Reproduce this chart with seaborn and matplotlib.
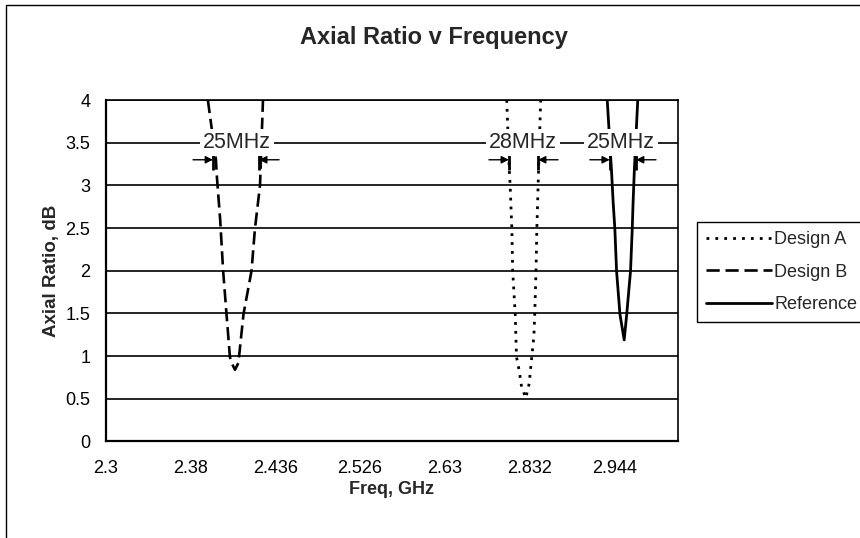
import matplotlib
matplotlib.use("Agg")
import matplotlib.pyplot as plt
import pandas as pd
import seaborn as sns
from matplotlib.patches import Rectangle

# x is the Excel category axis position (one unit = one tick step)
FREQ_LABELS = ["2.3", "2.38", "2.436", "2.526", "2.63", "2.832", "2.944"]

DESIGN_A_X = [9.46, 9.52, 9.54, 9.58, 9.60, 9.66, 9.69, 9.75, 9.81, 9.91,
              9.99, 10.05, 10.10, 10.12, 10.15, 10.17, 10.20, 10.26]
DESIGN_A_Y = [4.0, 3.18, 3.00, 2.49, 2.00, 1.49, 0.99, 0.84, 0.64, 0.51,
              0.68, 0.99, 1.23, 1.49, 2.00, 2.49, 3.00, 4.0]

DESIGN_B_X = [2.41, 2.60, 2.62, 2.70, 2.77, 2.85, 2.93, 2.97, 3.05,
              3.13, 3.25, 3.44, 3.52, 3.64, 3.71]
DESIGN_B_Y = [4.0, 3.30, 3.12, 2.60, 2.00, 1.49, 0.99, 0.92, 0.84,
              0.92, 1.49, 2.00, 2.49, 3.00, 4.0]

REF_X = [11.83, 11.93, 11.97, 12.01, 12.05, 12.13, 12.23,
         12.29, 12.38, 12.42, 12.44, 12.47, 12.55]
REF_Y = [4.0, 3.18, 2.80, 2.49, 2.00, 1.49, 1.19,
         1.49, 2.00, 2.49, 2.80, 3.18, 4.0]

# bandwidth markers (3 dB axial ratio bandwidth)
SPAN_TEXT = ["25MHz", "28MHz", "25MHz"]
SPAN_CENTER = [3.10, 9.84, 12.16]
SPAN_EDGES = [(2.53, 3.62), (9.51, 10.20), (11.89, 12.51)]

sns.set_theme(style="white")
plt.rcParams["font.family"] = ["Liberation Sans", "DejaVu Sans"]

fig = plt.figure(figsize=(8.6, 5.38), dpi=100)
ax = fig.add_axes([0.1229, 0.1794, 0.6655, 0.6347])

series = [
    ("Design A", DESIGN_A_X, DESIGN_A_Y, dict(lw=2.0, dashes=(1, 2.2))),
    ("Design B", DESIGN_B_X, DESIGN_B_Y, dict(lw=1.9, dashes=(5, 2.2))),
    ("Reference", REF_X, REF_Y, dict(lw=2.0)),
]
for name, xs, ys, style in series:
    df = pd.DataFrame({"pos": xs, "ar": ys})
    sns.lineplot(data=df, x="pos", y="ar", ax=ax, color="black",
                 label=name, sort=False, **style)
ax.get_legend().remove()

ax.set_xlim(0, 13.5)
ax.set_ylim(0, 4)
ax.set_xticks(range(14))
ax.set_xticklabels([FREQ_LABELS[i // 2] if i % 2 == 0 else "" for i in range(14)])
yt = [i * 0.5 for i in range(9)]
ax.set_yticks(yt)
ax.set_yticklabels([f"{v:g}" for v in yt])
ax.tick_params(axis="both", direction="out", length=5, width=1.2,
               color="black", labelsize=13, labelcolor="black")
ax.tick_params(axis="x", pad=8)
ax.tick_params(axis="y", pad=6)
ax.yaxis.grid(True, color="black", lw=1.2)
ax.xaxis.grid(False)
for side, lw in [("left", 1.6), ("bottom", 1.6), ("top", 1.2), ("right", 1.2)]:
    ax.spines[side].set_visible(True)
    ax.spines[side].set_color("black")
    ax.spines[side].set_linewidth(lw)

ax.set_xlabel("Freq, GHz", fontsize=13, fontweight="bold", labelpad=3)
ax.set_ylabel("Axial Ratio, dB", fontsize=13.5, fontweight="bold", labelpad=4)
fig.text(0.504, 0.930, "Axial Ratio v Frequency", ha="center", va="center",
         fontsize=17, fontweight="bold")

for txt, cx, (lo, hi) in zip(SPAN_TEXT, SPAN_CENTER, SPAN_EDGES):
    ax.text(cx, 3.5, txt, ha="center", va="center", fontsize=15.5,
            bbox=dict(facecolor="white", edgecolor="none", pad=2))
    ax.annotate("", xy=(lo, 3.30), xytext=(lo - 0.47, 3.30),
                arrowprops=dict(arrowstyle="-|>", color="black", lw=1,
                                mutation_scale=11, shrinkA=0, shrinkB=0))
    ax.annotate("", xy=(hi, 3.30), xytext=(hi + 0.47, 3.30),
                arrowprops=dict(arrowstyle="-|>", color="black", lw=1,
                                mutation_scale=11, shrinkA=0, shrinkB=0))
    ax.vlines([lo, hi], 3.18, 3.42, color="black", lw=2)

handles, labels = ax.get_legend_handles_labels()
leg = fig.legend(handles, labels, loc="upper left", bbox_to_anchor=(0.810, 0.587),
                 fontsize=13, frameon=True, fancybox=False, framealpha=1,
                 edgecolor="black", handlelength=3.7, handletextpad=0.1,
                 labelspacing=0.85, borderpad=0.5, borderaxespad=0)
leg.get_frame().set_linewidth(1.0)

fig.patches.append(Rectangle((0.007, -0.05), 1.1, 1.04, transform=fig.transFigure,
                             fill=False, edgecolor="black", lw=1))

fig.savefig("out.png", dpi=100)
